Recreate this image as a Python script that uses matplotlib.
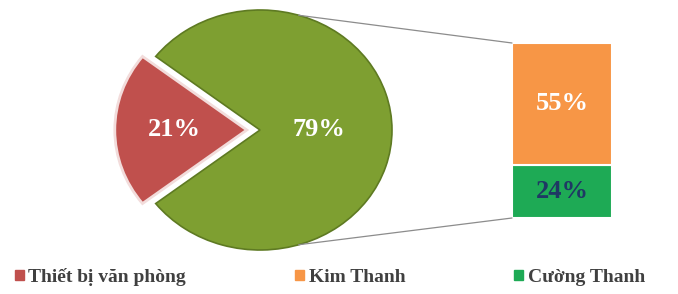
import numpy as np
import matplotlib.pyplot as plt
from matplotlib.patches import ConnectionPatch, Patch

# dữ liệu
pie_labels = ['Thiết bị văn phòng', 'Khác']
pie_values = [21, 79]
bar_labels = ['Cường Thanh', 'Kim Thanh']
bar_values = [24, 55]

pie_colors = ['#C0504D', '#7E9F31']
bar_colors = ['#1EAA55', '#F79646']
bar_text_colors = ['#1F3864', 'white']

plt.rcParams['font.family'] = ['Liberation Serif', 'DejaVu Serif']

W, H = 678, 294
fig = plt.figure(figsize=(W / 100, H / 100), dpi=100)

# pie (hơi dẹt như ảnh gốc)
cx, cy, rx, ry = 260, 130, 132, 120
ax1 = fig.add_axes([(cx - 1.25 * rx) / W, (H - cy - 1.25 * ry) / H,
                    2.5 * rx / W, 2.5 * ry / H])
start = 180 - pie_values[0] * 360 / 100 / 2
wedges, _ = ax1.pie(pie_values, colors=pie_colors, startangle=start,
                    explode=[0.1, 0], counterclock=True,
                    wedgeprops=dict(linewidth=2))
wedges[0].set_edgecolor('#F2DCDB')
wedges[1].set_edgecolor('#5E7A22')
wedges[1].set_linewidth(1.2)
ax1.set_aspect('auto')
ax1.set_xlim(-1.25, 1.25)
ax1.set_ylim(-1.25, 1.25)
ax1.axis('off')

ax1.text(-0.65, 0, f'{pie_values[0]}%', color='white', fontsize=19,
         fontweight='bold', ha='center', va='center')
ax1.text(0.45, 0, f'{pie_values[1]}%', color='white', fontsize=19,
         fontweight='bold', ha='center', va='center')

# cột chồng
bx0, bx1, by0, by1 = 512, 612, 43, 218
ax2 = fig.add_axes([bx0 / W, (H - by1) / H, (bx1 - bx0) / W, (by1 - by0) / H])
bottom = 0
for v, c, tc in zip(bar_values, bar_colors, bar_text_colors):
    ax2.bar(0, v, width=1, bottom=bottom, color=c,
            edgecolor='white', linewidth=1.5)
    ax2.text(0, bottom + v / 2, f'{v}%', color=tc, fontsize=19,
             fontweight='bold', ha='center', va='center')
    bottom += v
ax2.set_xlim(-0.5, 0.5)
ax2.set_ylim(0, bottom)
ax2.axis('off')

# đường nối
th = np.deg2rad(73)
for sgn, yb in [(1, bottom), (-1, 0)]:
    con = ConnectionPatch(xyA=(np.cos(th), sgn * np.sin(th)), coordsA=ax1.transData,
                          xyB=(-0.5, yb), coordsB=ax2.transData,
                          color='#8C8C8C', linewidth=0.9)
    fig.add_artist(con)

# chú thích
handles = [Patch(color=pie_colors[0]), Patch(color=bar_colors[1]),
           Patch(color=bar_colors[0])]
names = [pie_labels[0], bar_labels[1], bar_labels[0]]
leg = fig.legend(handles, names, loc='center left',
                 bbox_to_anchor=(7 / W, 1 - 277 / H), borderaxespad=0,
                 ncol=3, frameon=False, handlelength=0.45, handleheight=0.45,
                 handletextpad=0.25, columnspacing=5.6,
                 prop=dict(family='Liberation Serif', weight='bold', size=14))
for t in leg.get_texts():
    t.set_color('#404040')

fig.savefig('out.png', dpi=100)
